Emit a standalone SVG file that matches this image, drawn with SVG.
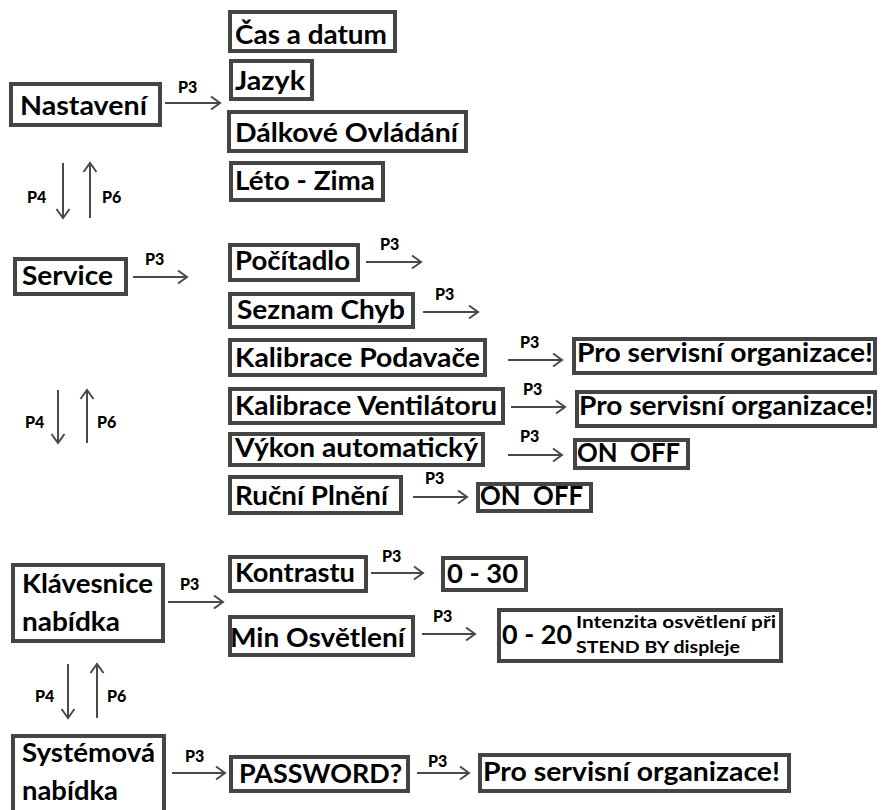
<svg xmlns="http://www.w3.org/2000/svg" width="883" height="810" viewBox="0 0 883 810">
<style>
.box{fill:#fff;stroke:#454545;stroke-width:4}
.t{font-family:Lato,"Open Sans","Liberation Sans",sans-serif;font-weight:bold;font-size:26px;fill:#000}
.s{font-size:17.5px}
.p{font-family:Lato,"Open Sans","Liberation Sans",sans-serif;font-weight:900;font-size:16px;fill:#000}
.c{stroke:#4a4a4a;stroke-width:2;fill:none}
</style>
<defs>
<marker id="ah" markerUnits="userSpaceOnUse" markerWidth="14" markerHeight="16" refX="11" refY="8" orient="auto">
<path d="M2,1.5 L11,8 L2,14.5" fill="none" stroke="#4a4a4a" stroke-width="2"/>
</marker>
</defs>
<rect width="883" height="810" fill="#fff"/>

<g id="nastaveni"><rect class="box" x="11" y="84" width="149" height="41"/><text class="t" x="20" y="115" textLength="127" lengthAdjust="spacingAndGlyphs">Nastavení</text></g>
<g id="cas"><rect class="box" x="230" y="12" width="165" height="39"/><text class="t" x="235" y="44" textLength="152" lengthAdjust="spacingAndGlyphs">Čas a datum</text></g>
<g id="jazyk"><rect class="box" x="231" y="61" width="81" height="38"/><text class="t" x="235" y="90" textLength="70" lengthAdjust="spacingAndGlyphs">Jazyk</text></g>
<g id="dalkove"><rect class="box" x="229" y="112" width="237" height="39"/><text class="t" x="235" y="142" textLength="223" lengthAdjust="spacingAndGlyphs">Dálkové Ovládání</text></g>
<g id="leto"><rect class="box" x="231" y="163" width="152" height="37"/><text class="t" x="235" y="190" textLength="140" lengthAdjust="spacingAndGlyphs">Léto - Zima</text></g>

<g id="service"><rect class="box" x="15" y="259" width="111" height="35"/><text class="t" x="22" y="285" textLength="91" lengthAdjust="spacingAndGlyphs">Service</text></g>
<g id="pocitadlo"><rect class="box" x="230" y="245" width="128" height="35"/><text class="t" x="235" y="270" textLength="115" lengthAdjust="spacingAndGlyphs">Počítadlo</text></g>
<g id="seznam"><rect class="box" x="230" y="294" width="183" height="33"/><text class="t" x="237" y="319" textLength="168" lengthAdjust="spacingAndGlyphs">Seznam Chyb</text></g>
<g id="podavace"><rect class="box" x="230" y="340" width="255" height="35"/><text class="t" x="235" y="367" textLength="245" lengthAdjust="spacingAndGlyphs">Kalibrace Podavače</text></g>
<g id="ventilatoru"><rect class="box" x="230" y="389" width="273" height="34"/><text class="t" x="235" y="415" textLength="262" lengthAdjust="spacingAndGlyphs">Kalibrace Ventilátoru</text></g>
<g id="vykon"><rect class="box" x="230" y="434" width="253" height="31"/><text class="t" x="235" y="457" textLength="243" lengthAdjust="spacingAndGlyphs">Výkon automatický</text></g>
<g id="rucni"><rect class="box" x="230" y="477" width="171" height="36"/><text class="t" x="235" y="505" textLength="153" lengthAdjust="spacingAndGlyphs">Ruční Plnění</text></g>
<g id="pro1"><rect class="box" x="574" y="339" width="301" height="34"/><text class="t" x="577" y="362" textLength="296" lengthAdjust="spacingAndGlyphs">Pro servisní organizace!</text></g>
<g id="pro2"><rect class="box" x="577" y="392" width="298" height="34"/><text class="t" x="579" y="415" textLength="294" lengthAdjust="spacingAndGlyphs">Pro servisní organizace!</text></g>
<g id="onoff1"><rect class="box" x="575" y="440" width="113" height="28"/><text class="t" x="577" y="462" textLength="103" lengthAdjust="spacingAndGlyphs" xml:space="preserve">ON  OFF</text></g>
<g id="onoff2"><rect class="box" x="478" y="484" width="113" height="27"/><text class="t" x="480" y="505" textLength="103" lengthAdjust="spacingAndGlyphs" xml:space="preserve">ON  OFF</text></g>

<g id="klavesnice"><rect class="box" x="13" y="565" width="150" height="76"/><text class="t" x="22" y="593" textLength="131" lengthAdjust="spacingAndGlyphs">Klávesnice</text><text class="t" x="22" y="631" textLength="98" lengthAdjust="spacingAndGlyphs">nabídka</text></g>
<g id="kontrastu"><rect class="box" x="230" y="557" width="136" height="34"/><text class="t" x="235" y="582" textLength="120" lengthAdjust="spacingAndGlyphs">Kontrastu</text></g>
<g id="r030"><rect class="box" x="443" y="558" width="83" height="32"/><text class="t" x="447" y="583" textLength="71" lengthAdjust="spacingAndGlyphs">0 - 30</text></g>
<g id="minosv"><rect class="box" x="230" y="617" width="183" height="38"/><text class="t" x="230" y="647" textLength="175" lengthAdjust="spacingAndGlyphs">Min Osvětlení</text></g>
<g id="r020"><rect class="box" x="499" y="610" width="282" height="51"/><text class="t" x="502" y="644" textLength="70" lengthAdjust="spacingAndGlyphs">0 - 20</text><text class="t s" x="576" y="628" textLength="200" lengthAdjust="spacingAndGlyphs">Intenzita osvětlení při</text><text class="t s" x="576" y="653" textLength="164" lengthAdjust="spacingAndGlyphs">STEND BY displeje</text></g>

<g id="systemova"><rect class="box" x="13" y="736" width="151" height="80"/><text class="t" x="22" y="762" textLength="133" lengthAdjust="spacingAndGlyphs">Systémová</text><text class="t" x="22" y="800" textLength="96" lengthAdjust="spacingAndGlyphs">nabídka</text></g>
<g id="password"><rect class="box" x="231" y="757" width="177" height="34"/><text class="t" x="239" y="783" textLength="163" lengthAdjust="spacingAndGlyphs">PASSWORD?</text></g>
<g id="pro3"><rect class="box" x="480" y="755" width="309" height="36"/><text class="t" x="483" y="781" textLength="297" lengthAdjust="spacingAndGlyphs">Pro servisní organizace!</text></g>

<g id="connectors">
<line class="c" x1="165" y1="103" x2="220" y2="103" marker-end="url(#ah)"/><text class="p" x="178" y="93">P3</text>
<line class="c" x1="133" y1="277" x2="187" y2="277" marker-end="url(#ah)"/><text class="p" x="145" y="265">P3</text>
<line class="c" x1="366" y1="262" x2="421" y2="262" marker-end="url(#ah)"/><text class="p" x="380" y="250">P3</text>
<line class="c" x1="423" y1="312" x2="478" y2="312" marker-end="url(#ah)"/><text class="p" x="435" y="300">P3</text>
<line class="c" x1="508" y1="360" x2="562" y2="360" marker-end="url(#ah)"/><text class="p" x="520" y="348">P3</text>
<line class="c" x1="511" y1="407" x2="565" y2="407" marker-end="url(#ah)"/><text class="p" x="523" y="395">P3</text>
<line class="c" x1="508" y1="455" x2="562" y2="455" marker-end="url(#ah)"/><text class="p" x="520" y="442">P3</text>
<line class="c" x1="413" y1="497" x2="467" y2="497" marker-end="url(#ah)"/><text class="p" x="425" y="484">P3</text>
<line class="c" x1="168" y1="602" x2="223" y2="602" marker-end="url(#ah)"/><text class="p" x="180" y="590">P3</text>
<line class="c" x1="371" y1="573" x2="423" y2="573" marker-end="url(#ah)"/><text class="p" x="382" y="562">P3</text>
<line class="c" x1="422" y1="634" x2="475" y2="634" marker-end="url(#ah)"/><text class="p" x="433" y="622">P3</text>
<line class="c" x1="172" y1="773" x2="225" y2="773" marker-end="url(#ah)"/><text class="p" x="185" y="762">P3</text>
<line class="c" x1="417" y1="773" x2="469" y2="773" marker-end="url(#ah)"/><text class="p" x="428" y="767">P3</text>

<line class="c" x1="63" y1="163" x2="63" y2="218" marker-end="url(#ah)"/><text class="p" x="27" y="203">P4</text>
<line class="c" x1="90" y1="218" x2="90" y2="163" marker-end="url(#ah)"/><text class="p" x="102" y="203">P6</text>
<line class="c" x1="58" y1="390" x2="58" y2="443" marker-end="url(#ah)"/><text class="p" x="25" y="428">P4</text>
<line class="c" x1="87" y1="443" x2="87" y2="390" marker-end="url(#ah)"/><text class="p" x="97" y="428">P6</text>
<line class="c" x1="68" y1="664" x2="68" y2="718" marker-end="url(#ah)"/><text class="p" x="35" y="702">P4</text>
<line class="c" x1="97" y1="718" x2="97" y2="664" marker-end="url(#ah)"/><text class="p" x="107" y="702">P6</text>
</g>
</svg>
